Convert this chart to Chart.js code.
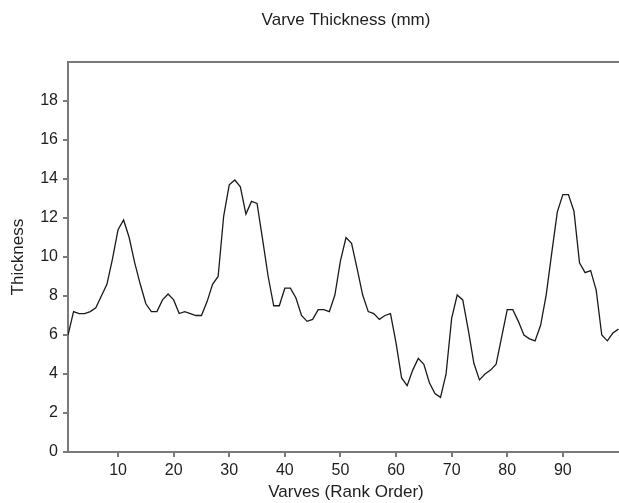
<!DOCTYPE html>
<html>
<head>
<meta charset="utf-8">
<title>Varve Thickness</title>
<script src="https://cdn.jsdelivr.net/npm/chart.js@4/dist/chart.umd.min.js"></script>
<style>
    html, body { margin: 0; padding: 0; background: #fff; overflow: hidden; }
    #clip { width: 619px; height: 503px; overflow: hidden; }
    #wrap { position: relative; width: 640px; height: 503px; }
</style>
</head>
<body>
<div id="clip"><div id="wrap"><canvas id="varveChart"></canvas></div></div>
<script>
// Varve index (rank order) and thickness values
const varveIndex = [
    1, 2, 3, 4, 5, 6, 7, 8, 9, 10,
    11, 12, 13, 14, 15, 16, 17, 18, 19, 20,
    21, 22, 23, 24, 25, 26, 27, 28, 29, 30,
    31, 32, 33, 34, 35, 36, 37, 38, 39, 40,
    41, 42, 43, 44, 45, 46, 47, 48, 49, 50,
    51, 52, 53, 54, 55, 56, 57, 58, 59, 60,
    61, 62, 63, 64, 65, 66, 67, 68, 69, 70,
    71, 72, 73, 74, 75, 76, 77, 78, 79, 80,
    81, 82, 83, 84, 85, 86, 87, 88, 89, 90,
    91, 92, 93, 94, 95, 96, 97, 98, 99, 100
];
const thickness = [
    6.0, 7.2, 7.1, 7.1, 7.2, 7.4, 8.0, 8.6, 9.9, 11.4,
    11.9, 11.0, 9.7, 8.6, 7.6, 7.2, 7.2, 7.8, 8.1, 7.8,
    7.1, 7.2, 7.1, 7.0, 7.0, 7.7, 8.6, 9.0, 12.1, 13.7,
    13.95, 13.6, 12.2, 12.85, 12.75, 10.9, 9.0, 7.5, 7.5, 8.4,
    8.4, 7.9, 7.0, 6.7, 6.8, 7.3, 7.3, 7.2, 8.05, 9.8,
    11.0, 10.7, 9.4, 8.05, 7.2, 7.1, 6.8, 7.0, 7.1, 5.6,
    3.8, 3.4, 4.2, 4.8, 4.5, 3.55, 3.0, 2.8, 4.0, 6.85,
    8.05, 7.8, 6.25, 4.55, 3.7, 4.0, 4.2, 4.5, 5.9, 7.3,
    7.3, 6.7, 6.0, 5.8, 5.7, 6.5, 8.05, 10.2, 12.3, 13.2,
    13.2, 12.35, 9.7, 9.2, 9.3, 8.3, 6.0, 5.7, 6.1, 6.3
];
const xTicks = [10, 20, 30, 40, 50, 60, 70, 80, 90];
const yTicks = [0, 2, 4, 6, 8, 10, 12, 14, 16, 18];

const axisColor = '#7a7a7a';
const textColor = '#1e1e1e';
const fontFamily = '"Liberation Sans", Arial, Helvetica, sans-serif';

// top edge of the plot frame
const frameTop = {
    id: 'frameTop',
    afterDraw(chart) {
        const a = chart.chartArea;
        const ctx = chart.ctx;
        ctx.save();
        ctx.strokeStyle = axisColor;
        ctx.lineWidth = 2;
        ctx.beginPath();
        ctx.moveTo(a.left - 1, a.top);
        ctx.lineTo(a.right, a.top);
        ctx.stroke();
        ctx.restore();
    }
};

const ctx = document.getElementById('varveChart').getContext('2d');
const varveChart = new Chart(ctx, {
    type: 'line',
    data: {
        labels: varveIndex,
        datasets: [{
            label: 'Thickness',
            data: thickness,
            borderColor: '#1a1a1a',
            borderWidth: 1.3,
            pointRadius: 0,
            tension: 0,
            fill: false
        }]
    },
    options: {
        responsive: true,
        maintainAspectRatio: false,
        animation: false,
        layout: {
            padding: { left: 0, right: 16, top: 0, bottom: 0 }
        },
        plugins: {
            legend: { display: false },
            tooltip: { enabled: false },
            title: {
                display: true,
                text: 'Varve Thickness (mm)',
                fullSize: false,
                color: textColor,
                font: { family: fontFamily, size: 17, weight: 'normal', lineHeight: 1.2 },
                padding: { top: 10, bottom: 31.6 }
            }
        },
        scales: {
            x: {
                type: 'linear',
                min: 1,
                max: 101,
                afterBuildTicks: scale => {
                    scale.ticks = xTicks.map(v => ({ value: v }));
                },
                afterFit: scale => { scale.height = 51; },
                grid: {
                    drawOnChartArea: false,
                    drawTicks: true,
                    tickLength: 5,
                    color: axisColor,
                    lineWidth: 2
                },
                border: { display: true, color: axisColor, width: 2 },
                ticks: {
                    color: textColor,
                    padding: 4,
                    maxRotation: 0,
                    font: { family: fontFamily, size: 16 }
                },
                title: {
                    display: true,
                    text: 'Varves (Rank Order)',
                    color: textColor,
                    font: { family: fontFamily, size: 17, lineHeight: 1.2 },
                    padding: { top: 0, bottom: 0 }
                }
            },
            y: {
                min: 0,
                max: 20,
                afterBuildTicks: scale => {
                    scale.ticks = yTicks.map(v => ({ value: v }));
                },
                afterFit: scale => { scale.width = 68; },
                grid: {
                    drawOnChartArea: false,
                    drawTicks: true,
                    tickLength: 5,
                    color: axisColor,
                    lineWidth: 2
                },
                border: { display: true, color: axisColor, width: 2 },
                ticks: {
                    color: textColor,
                    padding: 5,
                    font: { family: fontFamily, size: 16 }
                },
                title: {
                    display: true,
                    text: 'Thickness',
                    color: textColor,
                    font: { family: fontFamily, size: 17, lineHeight: 1.2 },
                    padding: { top: 8, bottom: 0 }
                }
            }
        }
    },
    plugins: [frameTop]
});
</script>
</body>
</html>
